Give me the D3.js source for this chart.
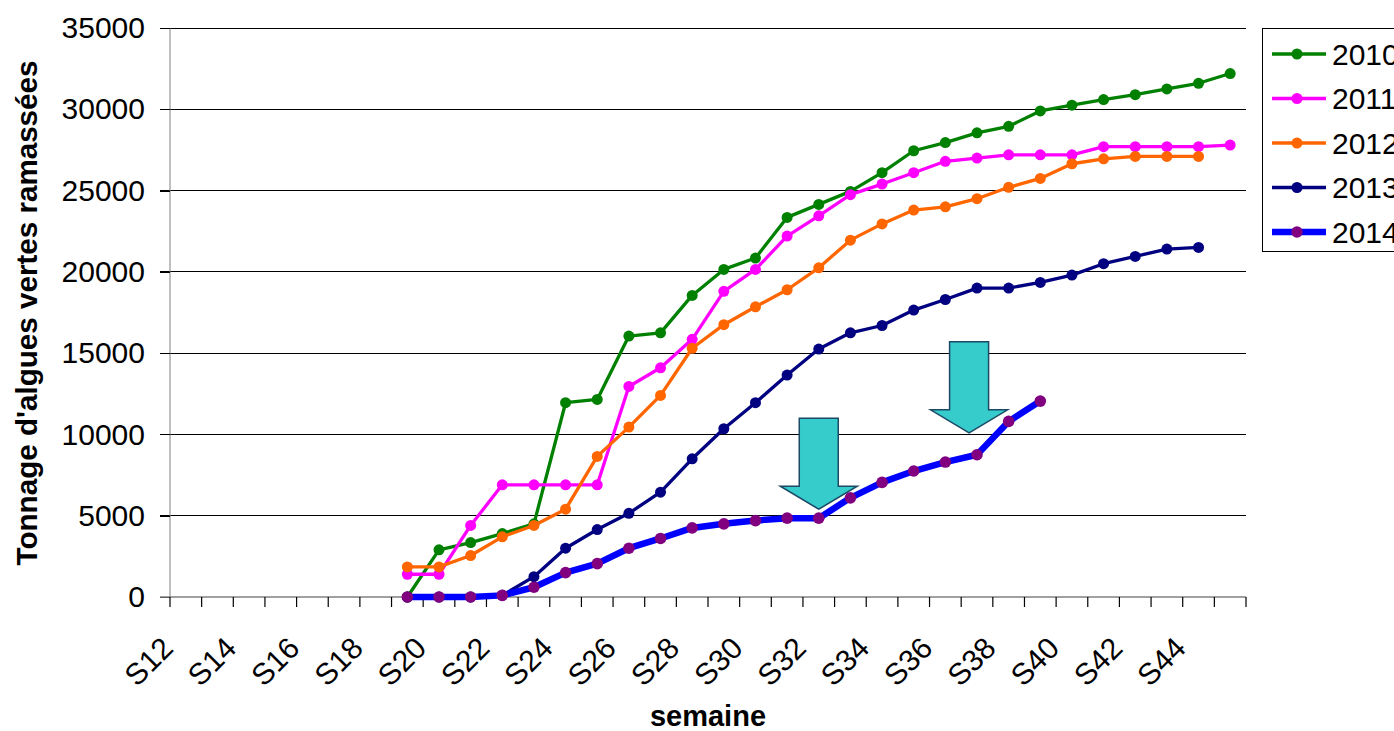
<!DOCTYPE html>
<html>
<head>
<meta charset="utf-8">
<script src="https://cdn.jsdelivr.net/npm/d3@7"></script>
<style>
  html, body { margin: 0; padding: 0; background: #fff; }
  svg { display: block; font-family: "Liberation Sans", Arial, sans-serif; }
</style>
</head>
<body>
<svg id="chart" width="1394" height="731"></svg>
<script>
// Week categories on the horizontal axis
const weeks = ["S12","S13","S14","S15","S16","S17","S18","S19","S20","S21","S22","S23",
  "S24","S25","S26","S27","S28","S29","S30","S31","S32","S33","S34","S35","S36","S37",
  "S38","S39","S40","S41","S42","S43","S44","S45"];
// Every other week carries a label
const weekLabels = ["S12","S14","S16","S18","S20","S22","S24","S26","S28","S30","S32",
  "S34","S36","S38","S40","S42","S44"];
const yTicks = [0, 5000, 10000, 15000, 20000, 25000, 30000, 35000];

// Cumulative tonnage per week, all series start at S19
const firstWeek = "S19";
const values2010 = [0, 2900, 3350, 3900, 4500, 11950, 12150, 16050, 16250, 18550, 20150, 20850,
  23350, 24150, 24950, 26100, 27450, 27950, 28550, 28950, 29900, 30250, 30600, 30900, 31250,
  31600, 32200];
const values2011 = [1400, 1400, 4400, 6900, 6900, 6900, 6900, 12950, 14100, 15850, 18800, 20150,
  22200, 23450, 24750, 25400, 26100, 26800, 27000, 27200, 27200, 27200, 27700, 27700, 27700,
  27700, 27800];
const values2012 = [1850, 1850, 2550, 3700, 4400, 5400, 8650, 10450, 12400, 15300, 16750, 17850,
  18900, 20250, 21950, 22950, 23800, 24000, 24500, 25200, 25750, 26650, 26950, 27100, 27100,
  27100];
const values2013 = [0, 0, 0, 100, 1250, 3000, 4150, 5150, 6450, 8500, 10350, 11950, 13650,
  15250, 16250, 16700, 17650, 18300, 19000, 19000, 19350, 19800, 20500, 20950, 21400, 21500];
const values2014 = [0, 0, 0, 100, 600, 1500, 2050, 3000, 3600, 4250, 4500, 4700, 4850, 4850,
  6100, 7050, 7750, 8300, 8750, 10800, 12050];

const seriesNames = ["2010", "2011", "2012", "2013", "2014"];
const seriesValues = [values2010, values2011, values2012, values2013, values2014];
const lineColors = ["#008000", "#FF00FF", "#FF6600", "#000080", "#0000FF"];
const markerColors = ["#008000", "#FF00FF", "#FF6600", "#000080", "#800080"];
const lineWidths = [3.3, 3.3, 3.3, 3.3, 6.5];
const markerRadii = [5.5, 5.5, 5.5, 5.5, 5.8];

// Down arrows pointing at the 2014 curve (tip week, fractional shift in weeks, tip value)
const arrowTips = [
  { week: "S32", shift: 0, value: 5400 },
  { week: "S37", shift: -0.25, value: 10100 }
];

const svg = d3.select("#chart");
const W = 1394, H = 731;
svg.append("rect").attr("width", W).attr("height", H).attr("fill", "#fff");

const plot = { left: 170, right: 1246, top: 28, bottom: 597 };

const x = d3.scaleBand().domain(weeks).range([plot.left, plot.right]).padding(0);
const cx = w => x(w) + x.bandwidth() / 2;
const y = d3.scaleLinear().domain([0, 35000]).range([plot.bottom, plot.top]);

// Horizontal gridlines (with their left tick stubs)
svg.append("g").selectAll("line").data(yTicks.filter(t => t > 0)).join("line")
  .attr("x1", plot.left - 10).attr("x2", plot.right)
  .attr("y1", d => y(d)).attr("y2", d => y(d))
  .attr("stroke", "#000").attr("stroke-width", 1).attr("shape-rendering", "crispEdges");

// Y axis
const yAxis = svg.append("g").attr("transform", `translate(${plot.left},0)`)
  .call(d3.axisLeft(y).tickValues(yTicks).tickFormat(d3.format("d")).tickSize(10).tickPadding(15));
yAxis.select(".domain").attr("stroke", "#808080").attr("d", `M0,${plot.top}V${plot.bottom}`);
yAxis.selectAll(".tick line").attr("stroke", "#000").attr("shape-rendering", "crispEdges");
yAxis.selectAll(".tick text").attr("font-size", 30).attr("fill", "#000")
  .attr("font-family", "Liberation Sans, Arial, sans-serif");

// X axis baseline and category boundary ticks
svg.append("line")
  .attr("x1", plot.left - 10).attr("x2", plot.right)
  .attr("y1", y(0)).attr("y2", y(0))
  .attr("stroke", "#808080").attr("stroke-width", 1.5);
const boundaries = weeks.map(w => x(w)).concat([x(weeks[weeks.length - 1]) + x.bandwidth()]);
svg.append("g").selectAll("line").data(boundaries).join("line")
  .attr("x1", d => d).attr("x2", d => d)
  .attr("y1", y(0)).attr("y2", y(0) + 10)
  .attr("stroke", "#000").attr("stroke-width", 1.2);

// Rotated week labels
svg.append("g").selectAll("text").data(weekLabels).join("text")
  .attr("transform", d => `translate(${cx(d) - 11},${y(0) + 53}) rotate(-45)`)
  .attr("text-anchor", "end")
  .attr("font-size", 30)
  .attr("fill", "#000")
  .text(d => d);

// Axis titles
svg.append("text")
  .attr("transform", "translate(37,313) rotate(-90)")
  .attr("text-anchor", "middle").attr("font-size", 29.6).attr("font-weight", "bold")
  .text("Tonnage d'algues vertes ramassées");
svg.append("text")
  .attr("x", 708).attr("y", 726)
  .attr("text-anchor", "middle").attr("font-size", 29).attr("font-weight", "bold")
  .text("semaine");

// Series lines and markers
const startIdx = weeks.indexOf(firstWeek);
const line = d3.line().x(d => cx(d.week)).y(d => y(d.value));
seriesValues.forEach((vals, i) => {
  const pts = vals.map((v, j) => ({ week: weeks[startIdx + j], value: v }));
  const g = svg.append("g");
  g.append("path").datum(pts).attr("d", line)
    .attr("fill", "none").attr("stroke", lineColors[i]).attr("stroke-width", lineWidths[i])
    .attr("stroke-linejoin", "round");
  g.selectAll("circle").data(pts).join("circle")
    .attr("cx", d => cx(d.week)).attr("cy", d => y(d.value))
    .attr("r", markerRadii[i]).attr("fill", markerColors[i]);
});

// Block arrows
const shaftW = 39, headW = 77, shaftH = 68, headH = 23;
arrowTips.forEach(a => {
  const tx = cx(a.week) + a.shift * x.bandwidth();
  const ty = y(a.value);
  const top = ty - headH - shaftH;
  const p = [
    [tx - shaftW / 2, top], [tx + shaftW / 2, top],
    [tx + shaftW / 2, ty - headH], [tx + headW / 2, ty - headH],
    [tx, ty], [tx - headW / 2, ty - headH],
    [tx - shaftW / 2, ty - headH]
  ];
  svg.append("path").attr("d", d3.line()(p) + "Z")
    .attr("fill", "#36CCCC").attr("stroke", "#1B4A66").attr("stroke-width", 1.5)
    .attr("stroke-linejoin", "miter");
});

// Legend
const legend = svg.append("g");
legend.append("rect").attr("x", 1262.5).attr("y", 28.5).attr("width", 200).attr("height", 223)
  .attr("fill", "#fff").attr("stroke", "#000").attr("stroke-width", 1);
seriesNames.forEach((name, i) => {
  const ly = 54 + i * 44.5;
  legend.append("line").attr("x1", 1272).attr("x2", 1326).attr("y1", ly).attr("y2", ly)
    .attr("stroke", lineColors[i]).attr("stroke-width", lineWidths[i]);
  legend.append("circle").attr("cx", 1297).attr("cy", ly).attr("r", markerRadii[i])
    .attr("fill", markerColors[i]);
  legend.append("text").attr("x", 1332).attr("y", ly + 10.5)
    .attr("font-size", 30).attr("fill", "#000").text(name);
});
</script>
</body>
</html>
